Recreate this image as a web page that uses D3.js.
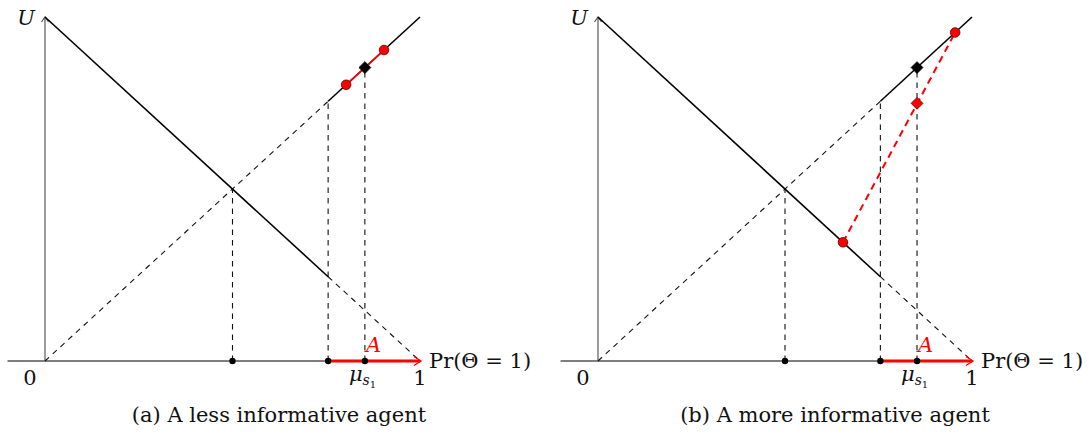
<!DOCTYPE html>
<html>
<head>
<meta charset="utf-8">
<script src="https://cdn.jsdelivr.net/npm/d3@7"></script>
<style>
  html, body { margin: 0; padding: 0; background: #fff; }
  svg { display: block; }
  text { font-family: "DejaVu Serif", "Liberation Serif", serif; fill: #111; }
</style>
</head>
<body>
<svg id="chart" width="1090" height="434"></svg>
<script>
// Payoff of each action as a function of the belief Pr(Θ = 1)
const lowAction  = [[0, 1], [1, 0]];   // decreasing payoff
const highAction = [[0, 0], [1, 1]];   // increasing payoff

// Key beliefs on the horizontal axis
const crossing  = 0.5;     // where the two payoffs meet
const threshold = 0.755;   // left end of the acceptance region A
const prior     = 0.853;   // μ_{s1}

// Posteriors generated by each agent's signal (belief, payoff)
const posteriorsLess = [[0.803, 0.803], [0.904, 0.904]];
const posteriorsMore = [[0.655, 0.345], [0.955, 0.955]];

// Expected payoff at the prior for the more informative agent
const splitValueMore = [[prior, 0.749]];

const captions = ["(a) A less informative agent", "(b) A more informative agent"];
const axisTicks = ["0", "1"];

const panels = [
  { caption: captions[0], range: [45, 420], posteriors: posteriorsLess, split: [], splitDashed: false, capX: 279 },
  { caption: captions[1], range: [598, 972], posteriors: posteriorsMore, split: splitValueMore, splitDashed: true, capX: 835 }
];

const svg = d3.select("#chart");
const y = d3.scaleLinear().domain([0, 1]).range([361, 17]);
const RED = "#ff0000";
const FS = 21;

panels.forEach(p => {
  const x = d3.scaleLinear().domain([0, 1]).range(p.range);
  const g = svg.append("g");
  const line = d3.line().x(d => x(d[0])).y(d => y(d[1]));
  const lowAt = b => lowAction[0][1] + (lowAction[1][1] - lowAction[0][1]) * b;
  const highAt = b => highAction[0][1] + (highAction[1][1] - highAction[0][1]) * b;

  // axes
  g.append("line")
    .attr("x1", x(-0.1)).attr("x2", x(1)).attr("y1", y(0)).attr("y2", y(0))
    .attr("stroke", "#555").attr("stroke-width", 1.3);
  g.append("line")
    .attr("x1", x(0)).attr("x2", x(0)).attr("y1", y(0)).attr("y2", y(1))
    .attr("stroke", "#666").attr("stroke-width", 1.3);
  g.append("path")
    .attr("d", `M${x(0) - 3.5},${y(1) + 5} L${x(0)},${y(1)} L${x(0) + 3.5},${y(1) + 5}`)
    .attr("fill", "none").attr("stroke", "#444").attr("stroke-width", 1.1);

  const dashed = sel => sel.attr("fill", "none").attr("stroke", "#111")
    .attr("stroke-width", 1.1).attr("stroke-dasharray", "5.5,5");

  // dashed continuations of the payoff lines
  g.append("path").datum([[threshold, lowAt(threshold)], lowAction[1]]).attr("d", line).call(dashed);
  g.append("path").datum([highAction[0], [threshold, highAt(threshold)]]).attr("d", line).call(dashed);

  // vertical guides
  [[crossing, highAt(crossing)], [threshold, highAt(threshold)], [prior, highAt(prior)]].forEach(d => {
    g.append("line")
      .attr("x1", x(d[0])).attr("x2", x(d[0])).attr("y1", y(0)).attr("y2", y(d[1]))
      .call(dashed);
  });

  // solid payoff segments
  g.append("path").datum([lowAction[0], [threshold, lowAt(threshold)]]).attr("d", line)
    .attr("fill", "none").attr("stroke", "#000").attr("stroke-width", 1.6);
  g.append("path").datum([[threshold, highAt(threshold)], highAction[1]]).attr("d", line)
    .attr("fill", "none").attr("stroke", "#000").attr("stroke-width", 1.6);

  // region A on the axis
  g.append("line")
    .attr("x1", x(threshold)).attr("x2", x(1)).attr("y1", y(0)).attr("y2", y(0))
    .attr("stroke", RED).attr("stroke-width", 3);
  g.append("path")
    .attr("d", `M${x(1) - 6},${y(0) - 4.5} L${x(1) + 1},${y(0)} L${x(1) - 6},${y(0) + 4.5}`)
    .attr("fill", "none").attr("stroke", RED).attr("stroke-width", 1.3);

  // chord between the posteriors
  const chord = g.append("path").datum(p.posteriors).attr("d", line)
    .attr("fill", "none").attr("stroke", RED).attr("stroke-width", p.splitDashed ? 2 : 1.7);
  if (p.splitDashed) chord.attr("stroke-dasharray", "7,5");

  // axis dots
  [crossing, threshold, prior].forEach(b => {
    g.append("circle").attr("cx", x(b)).attr("cy", y(0)).attr("r", 3.2).attr("fill", "#000");
  });

  // black diamond: payoff of the high action at the prior
  const diamond = d3.symbol().type(d3.symbolDiamond2).size(90);
  g.append("path").attr("d", diamond)
    .attr("transform", `translate(${x(prior)},${y(highAt(prior))})`)
    .attr("fill", "#000").attr("stroke", "#000").attr("stroke-width", 0.8);

  // red diamond: value of splitting the belief
  p.split.forEach(d => {
    g.append("path").attr("d", diamond)
      .attr("transform", `translate(${x(d[0])},${y(d[1])})`)
      .attr("fill", RED).attr("stroke", "#600").attr("stroke-width", 0.8);
  });

  // posterior circles
  p.posteriors.forEach(d => {
    g.append("circle").attr("cx", x(d[0])).attr("cy", y(d[1])).attr("r", 4.8)
      .attr("fill", RED).attr("stroke", "#500").attr("stroke-width", 0.8);
  });

  // labels
  g.append("text").attr("x", x(0) - 19).attr("y", y(1) + 8)
    .attr("text-anchor", "middle").attr("font-style", "italic").attr("font-size", FS).text("U");
  g.append("text").attr("x", x(0) - 15).attr("y", 385)
    .attr("text-anchor", "middle").attr("font-size", FS).text(axisTicks[0]);
  g.append("text").attr("x", x(1)).attr("y", 385)
    .attr("text-anchor", "middle").attr("font-size", FS).text(axisTicks[1]);
  g.append("text").attr("x", x(1) + 9).attr("y", y(0) + 7)
    .attr("font-size", FS).text("Pr(Θ = 1)");
  const mu = g.append("text").attr("x", x(prior) - 16).attr("y", 381).attr("font-size", FS);
  mu.append("tspan").attr("font-style", "italic").text("μ");
  mu.append("tspan").attr("font-style", "italic").attr("font-size", 14).attr("dy", 4).text("s");
  mu.append("tspan").attr("font-size", 10).attr("dy", 3).text("1");
  g.append("text").attr("x", x(prior) + 1).attr("y", 352)
    .attr("font-style", "italic").attr("font-size", FS).style("fill", RED).text("A");

  g.append("text").attr("x", p.capX).attr("y", 422).attr("text-anchor", "middle")
    .attr("font-size", FS).text(p.caption);
});
</script>
</body>
</html>
